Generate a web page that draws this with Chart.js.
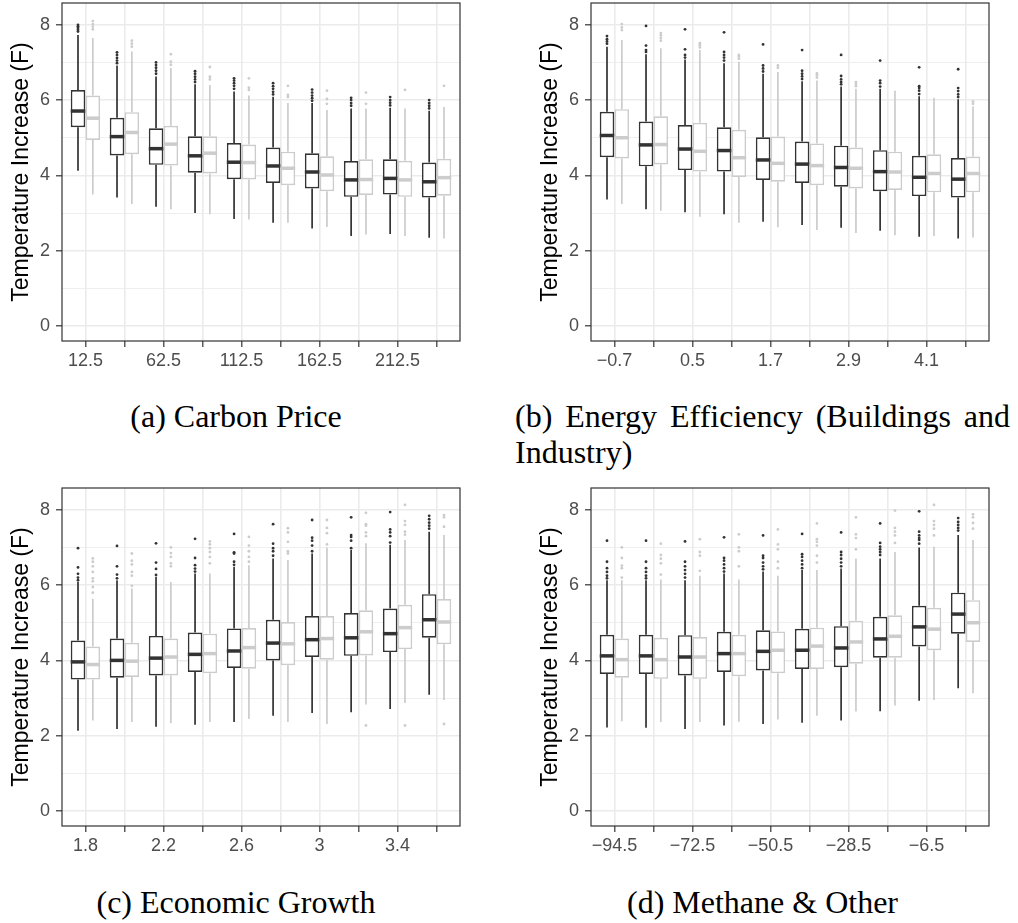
<!DOCTYPE html>
<html>
<head>
<meta charset="utf-8">
<script src="https://cdn.jsdelivr.net/npm/chart.js@4.4.0/dist/chart.umd.min.js"></script>
<style>
  body { margin: 0; background: #fff; }
  #page { position: relative; width: 1018px; height: 923px; overflow: hidden; }
  .panel { position: absolute; width: 480px; height: 380px; }
  .cap { position: absolute; font-family: "Liberation Serif", serif; font-size: 32px; line-height: 36px; color: #000; }
</style>
</head>
<body>
<div id="page">
  <div class="panel" style="left:0;top:0"><canvas id="carbon" width="480" height="380"></canvas></div>
  <div class="panel" style="left:529px;top:0"><canvas id="efficiency" width="480" height="380"></canvas></div>
  <div class="panel" style="left:0;top:485px"><canvas id="growth" width="480" height="380"></canvas></div>
  <div class="panel" style="left:529px;top:485px"><canvas id="methane" width="480" height="380"></canvas></div>

  <div class="cap" style="left:0;width:472px;top:398px;text-align:center;white-space:nowrap">(a) Carbon Price</div>
  <div class="cap" style="left:515px;width:495px;top:398px;text-align:justify;text-align-last:justify">(b) Energy Efficiency (Buildings and</div>
  <div class="cap" style="left:515px;top:434px;white-space:nowrap">Industry)</div>
  <div class="cap" style="left:0;width:472px;top:884px;text-align:center;white-space:nowrap">(c) Economic Growth</div>
  <div class="cap" style="left:515px;width:495px;top:884px;text-align:center;white-space:nowrap">(d) Methane &amp; Other</div>
</div>

<script>
// each box: [lower whisker, q1, median, q3, upper whisker]
const carbonLabels = ['12.5', '37.5', '62.5', '87.5', '112.5', '137.5', '162.5', '187.5', '212.5', '237.5'];
const carbonDark = [
    [4.12, 5.28, 5.71, 6.27, 7.73], [3.41, 4.53, 5.03, 5.53, 6.92], [3.17, 4.28, 4.71, 5.25, 6.63],
    [3.00, 4.07, 4.52, 5.04, 6.42], [2.84, 3.90, 4.35, 4.86, 6.23], [2.74, 3.80, 4.25, 4.74, 6.09],
    [2.59, 3.65, 4.09, 4.59, 5.92], [2.39, 3.43, 3.88, 4.38, 5.78], [2.44, 3.49, 3.92, 4.43, 5.80],
    [2.34, 3.41, 3.83, 4.34, 5.72]
];
const carbonLight = [
    [3.49, 4.94, 5.52, 6.12, 7.65], [3.24, 4.56, 5.14, 5.68, 7.29], [3.10, 4.26, 4.83, 5.32, 6.85],
    [2.97, 4.05, 4.59, 5.04, 6.40], [2.83, 3.89, 4.34, 4.82, 6.12], [2.74, 3.74, 4.19, 4.63, 5.92],
    [2.63, 3.58, 4.01, 4.51, 5.74], [2.43, 3.48, 3.89, 4.43, 5.78], [2.39, 3.43, 3.88, 4.39, 5.78],
    [2.32, 3.46, 3.94, 4.44, 5.82]
];
const carbonDarkOut = [
    [7.82, 7.87, 7.92, 7.96, 8.0], [6.98, 7.05, 7.12, 7.2, 7.27], [6.7, 6.78, 6.86, 6.93, 7.0],
    [6.48, 6.55, 6.62, 6.7, 6.77], [6.3, 6.38, 6.45, 6.52, 6.58], [6.15, 6.22, 6.3, 6.37, 6.45],
    [5.98, 6.05, 6.12, 6.2, 6.28], [5.85, 5.92, 6.0, 6.06], [5.86, 5.93, 6.0, 6.08], [5.78, 5.85, 5.92, 6.0]
];
const carbonLightOut = [
    [7.88, 7.95, 8.02, 8.1], [7.42, 7.5, 7.58], [6.94, 7.02, 7.22], [6.55, 6.62, 6.88], [6.27, 6.33, 6.58],
    [6.08, 6.14, 6.38], [5.9, 6.03, 6.25], [5.9, 6.2], [6.27], [6.38]
];

const efficiencyLabels = ['\u22120.7', '\u22120.1', '0.5', '1.1', '1.7', '2.3', '2.9', '3.5', '4.1', '4.7'];
const efficiencyDark = [
    [3.36, 4.48, 5.06, 5.69, 7.42], [3.10, 4.24, 4.81, 5.43, 7.22], [3.02, 4.14, 4.70, 5.34, 7.08],
    [2.97, 4.10, 4.66, 5.28, 6.98], [2.77, 3.88, 4.41, 5.01, 6.70], [2.68, 3.80, 4.30, 4.90, 6.50],
    [2.61, 3.70, 4.21, 4.79, 6.36], [2.53, 3.58, 4.10, 4.67, 6.30], [2.37, 3.45, 3.95, 4.52, 6.10],
    [2.32, 3.41, 3.90, 4.46, 6.02]
];
const efficiencyLight = [
    [3.24, 4.45, 5.00, 5.76, 7.60], [3.06, 4.29, 4.82, 5.57, 7.38], [2.90, 4.10, 4.64, 5.40, 7.33],
    [2.74, 3.96, 4.47, 5.21, 7.02], [2.62, 3.83, 4.32, 5.03, 6.75], [2.55, 3.74, 4.26, 4.85, 6.52],
    [2.47, 3.65, 4.19, 4.74, 6.30], [2.41, 3.61, 4.09, 4.63, 6.25], [2.39, 3.55, 4.05, 4.56, 6.06],
    [2.35, 3.55, 4.05, 4.50, 5.83]
];
const efficiencyDarkOut = [
    [7.5, 7.56, 7.62, 7.7], [7.28, 7.33, 7.45, 7.97], [7.13, 7.2, 7.35, 7.88], [7.05, 7.13, 7.2, 7.28, 7.8],
    [6.76, 6.84, 6.92, 7.48], [6.56, 6.63, 6.7, 6.78, 7.33], [6.42, 6.48, 6.55, 6.64, 7.2],
    [6.36, 6.45, 6.52, 7.05], [6.16, 6.25, 6.32, 6.37, 6.87], [6.08, 6.15, 6.24, 6.32, 6.82]
];
const efficiencyLightOut = [
    [7.86, 7.93, 8.02], [7.58, 7.65, 7.72, 7.78], [7.4, 7.46, 7.51], [7.1, 7.16, 7.2], [6.86, 6.92],
    [6.6, 6.66, 6.71], [6.37, 6.43, 6.48], [], [], [5.9, 5.96]
];

const growthLabels = ['1.8', '2', '2.2', '2.4', '2.6', '2.8', '3', '3.2', '3.4', '3.6'];
const growthDark = [
    [2.13, 3.49, 3.96, 4.53, 6.09], [2.18, 3.54, 4.00, 4.58, 6.13], [2.24, 3.60, 4.06, 4.65, 6.22],
    [2.29, 3.69, 4.16, 4.74, 6.31], [2.36, 3.80, 4.25, 4.85, 6.49], [2.53, 4.00, 4.46, 5.08, 6.71],
    [2.60, 4.09, 4.55, 5.18, 6.84], [2.62, 4.12, 4.60, 5.26, 6.93], [2.71, 4.22, 4.71, 5.38, 7.07],
    [3.09, 4.60, 5.08, 5.76, 7.42]
];
const growthLight = [
    [2.40, 3.49, 3.89, 4.37, 5.64], [2.36, 3.56, 3.98, 4.47, 5.91], [2.33, 3.60, 4.09, 4.58, 6.08],
    [2.36, 3.66, 4.18, 4.71, 6.31], [2.44, 3.78, 4.34, 4.86, 6.53], [2.36, 3.87, 4.44, 5.02, 6.67],
    [2.31, 4.02, 4.58, 5.18, 7.00], [2.83, 4.13, 4.76, 5.33, 7.11], [2.87, 4.30, 4.87, 5.48, 7.20],
    [2.95, 4.43, 5.02, 5.63, 7.33]
];
const growthDarkOut = [
    [6.13, 6.2, 6.3, 6.47, 6.98], [6.18, 6.28, 6.5, 7.04], [6.27, 6.43, 6.6, 7.11], [6.36, 6.44, 6.53, 6.72, 7.23],
    [6.54, 6.62, 6.84, 6.87, 7.36], [6.78, 6.9, 6.98, 7.1, 7.62], [6.9, 7.05, 7.18, 7.26, 7.73],
    [6.98, 7.18, 7.28, 7.33, 7.8], [7.13, 7.3, 7.4, 7.48, 7.94], [7.5, 7.58, 7.66, 7.75, 7.84]
];
const growthLightOut = [
    [5.8, 5.95, 6.1, 6.18, 6.35, 6.5, 6.62, 6.71], [5.98, 6.25, 6.35, 6.55, 6.65, 6.84], [6.5, 6.58, 6.75, 6.85, 7.0],
    [6.58, 6.75, 6.88, 6.98, 7.08, 7.16], [6.62, 6.75, 6.9, 7.05, 7.28], [6.84, 6.9, 7.15, 7.4, 7.51],
    [7.08, 7.38, 7.52, 7.73], [2.27, 7.3, 7.4, 7.58, 7.62, 7.92], [2.27, 7.34, 7.42, 7.6, 7.7, 8.13],
    [2.31, 7.55, 7.8, 7.86]
];

const methaneLabels = ['\u221294.5', '\u221283.5', '\u221272.5', '\u221261.5', '\u221250.5', '\u221239.5', '\u221228.5', '\u221217.5', '\u22126.5', '4.5'];
const methaneDark = [
    [2.22, 3.64, 4.12, 4.68, 6.13], [2.21, 3.64, 4.12, 4.68, 6.13], [2.18, 3.60, 4.09, 4.67, 6.13],
    [2.27, 3.69, 4.18, 4.76, 6.31], [2.31, 3.73, 4.24, 4.80, 6.36], [2.34, 3.77, 4.27, 4.84, 6.40],
    [2.40, 3.82, 4.33, 4.91, 6.44], [2.65, 4.07, 4.57, 5.16, 6.71], [2.93, 4.37, 4.89, 5.45, 7.00],
    [3.26, 4.71, 5.23, 5.80, 7.33]
];
const methaneLight = [
    [2.38, 3.54, 4.02, 4.58, 6.13], [2.36, 3.51, 4.02, 4.60, 6.15], [2.36, 3.51, 4.09, 4.62, 6.25],
    [2.37, 3.58, 4.18, 4.68, 6.15], [2.43, 3.66, 4.27, 4.77, 6.25], [2.53, 3.77, 4.38, 4.87, 6.40],
    [2.64, 3.91, 4.49, 5.05, 6.71], [2.80, 4.07, 4.64, 5.20, 6.88], [2.95, 4.27, 4.83, 5.40, 7.02],
    [3.13, 4.49, 5.00, 5.60, 7.20]
];
const methaneDarkOut = [
    [6.18, 6.25, 6.35, 6.45, 6.62, 7.18], [6.18, 6.25, 6.35, 6.45, 6.62, 7.18], [6.2, 6.3, 6.4, 6.5, 6.62, 7.16],
    [6.36, 6.45, 6.55, 6.65, 6.72, 7.27], [6.42, 6.5, 6.6, 6.72, 6.78, 7.32], [6.45, 6.55, 6.65, 6.75, 6.82, 7.36],
    [6.5, 6.6, 6.7, 6.8, 6.88, 7.4], [6.8, 6.88, 6.95, 7.02, 7.12, 7.64], [7.1, 7.2, 7.25, 7.32, 7.42, 7.96],
    [7.45, 7.52, 7.6, 7.68, 7.78]
];
const methaneLightOut = [
    [6.2, 6.45, 6.52, 6.72, 7.0], [6.28, 6.58, 6.7, 6.8, 7.1], [6.38, 6.78, 6.88, 7.22], [6.5, 6.9, 7.0, 7.35],
    [6.45, 6.62, 6.95, 7.08, 7.48], [6.6, 6.78, 7.05, 7.15, 7.22, 7.64], [6.95, 7.25, 7.35, 7.8],
    [7.12, 7.32, 7.42, 7.52, 7.98], [7.32, 7.5, 7.6, 7.7, 8.13], [7.5, 7.65, 7.8, 7.88]
];

const yTicks = [0, 1, 2, 3, 4, 5, 6, 7, 8];

const DARK = '#333333';
const LIGHT = '#CCCCCC';
const GRID = '#EBEBEB';
const AXIS = '#333333';
const TICK_TEXT = '#4D4D4D';
const SANS = '"Liberation Sans", Arial, sans-serif';

// whiskers + outliers under the boxes, medians on top, then the panel border
const boxParts = {
    id: 'boxParts',
    beforeDatasetsDraw(chart) {
        const ctx = chart.ctx;
        const y = chart.scales.y;
        ctx.save();
        chart.data.datasets.forEach((ds, di) => {
            const meta = chart.getDatasetMeta(di);
            ctx.strokeStyle = ds.borderColor;
            ctx.fillStyle = ds.borderColor;
            ctx.lineWidth = 1.7;
            ds.stats.forEach((s, i) => {
                const x = meta.data[i].x;
                ctx.beginPath();
                ctx.moveTo(x, y.getPixelForValue(s[3]));
                ctx.lineTo(x, y.getPixelForValue(s[4]));
                ctx.moveTo(x, y.getPixelForValue(s[1]));
                ctx.lineTo(x, y.getPixelForValue(s[0]));
                ctx.stroke();
                (ds.outliers[i] || []).forEach(v => {
                    ctx.beginPath();
                    ctx.arc(x, y.getPixelForValue(v), 1.4, 0, Math.PI * 2);
                    ctx.fill();
                });
            });
        });
        ctx.restore();
    },
    afterDatasetsDraw(chart) {
        const ctx = chart.ctx;
        const y = chart.scales.y;
        ctx.save();
        chart.data.datasets.forEach((ds, di) => {
            const meta = chart.getDatasetMeta(di);
            ctx.strokeStyle = ds.borderColor;
            ctx.lineWidth = 3.5;
            ds.stats.forEach((s, i) => {
                const bar = meta.data[i];
                const py = y.getPixelForValue(s[2]);
                ctx.beginPath();
                ctx.moveTo(bar.x - bar.width / 2, py);
                ctx.lineTo(bar.x + bar.width / 2, py);
                ctx.stroke();
            });
        });
        const a = chart.chartArea;
        ctx.strokeStyle = AXIS;
        ctx.lineWidth = 1.2;
        ctx.strokeRect(a.left, a.top, a.right - a.left, a.bottom - a.top);
        ctx.restore();
    }
};

const boxDataset = (stats, outliers, color) => ({
    data: stats.map((s, i) => ({ x: i, y: [s[1], s[3]] })),
    stats: stats,
    outliers: outliers,
    backgroundColor: '#FFFFFF',
    borderColor: color,
    borderWidth: 1.7,
    borderSkipped: false,
    categoryPercentage: 0.76,
    barPercentage: 0.98
});

const makePanel = (id, labels, dark, light, darkOut, lightOut) => {
    const ctx = document.getElementById(id).getContext('2d');

    new Chart(ctx, {
        type: 'bar',
        data: {
            datasets: [
                boxDataset(dark, darkOut, DARK),
                boxDataset(light, lightOut, LIGHT)
            ]
        },
        plugins: [boxParts],
        options: {
            responsive: false,
            animation: false,
            devicePixelRatio: 1,
            layout: { padding: { top: 3, right: 20, left: 0, bottom: 0 } },
            plugins: {
                legend: { display: false },
                tooltip: { enabled: false }
            },
            scales: {
                x: {
                    type: 'linear',
                    min: -0.6,
                    max: 9.6,
                    bounds: 'data',
                    offset: false,
                    afterBuildTicks: (scale) => {
                        scale.ticks = labels.map((l, i) => ({ value: i }));
                    },
                    afterFit: (scale) => {
                        scale.height = 39;
                        scale.paddingLeft = 0;
                        scale.paddingRight = 0;
                    },
                    border: { display: false },
                    grid: {
                        offset: false,
                        color: GRID,
                        lineWidth: 1.6,
                        tickColor: AXIS,
                        tickWidth: 1.2,
                        tickLength: 6
                    },
                    ticks: {
                        autoSkip: false,
                        maxRotation: 0,
                        padding: 3,
                        color: TICK_TEXT,
                        font: { family: SANS, size: 18 },
                        callback: (value) => value % 2 === 0 ? labels[value] : ''
                    }
                },
                y: {
                    type: 'linear',
                    min: -0.4,
                    max: 8.58,
                    bounds: 'data',
                    afterBuildTicks: (scale) => {
                        scale.ticks = yTicks.map(v => ({ value: v }));
                    },
                    afterFit: (scale) => {
                        scale.width = 62;
                        scale.paddingTop = 0;
                        scale.paddingBottom = 0;
                    },
                    border: { display: false },
                    grid: {
                        color: GRID,
                        lineWidth: (c) => c.tick && c.tick.value % 2 === 0 ? 1.6 : 0.8,
                        tickColor: (c) => c.tick && c.tick.value % 2 === 0 ? AXIS : 'rgba(0,0,0,0)',
                        tickWidth: 1.2,
                        tickLength: 6
                    },
                    ticks: {
                        padding: 6,
                        color: TICK_TEXT,
                        font: { family: SANS, size: 18 },
                        callback: (value) => value % 2 === 0 ? value : ''
                    },
                    title: {
                        display: true,
                        text: 'Temperature Increase (F)',
                        color: '#000000',
                        font: { family: SANS, size: 23 },
                        padding: { top: 8, bottom: 0 }
                    }
                }
            }
        }
    });
};

document.addEventListener('DOMContentLoaded', function () {
    makePanel('carbon', carbonLabels, carbonDark, carbonLight, carbonDarkOut, carbonLightOut);
    makePanel('efficiency', efficiencyLabels, efficiencyDark, efficiencyLight, efficiencyDarkOut, efficiencyLightOut);
    makePanel('growth', growthLabels, growthDark, growthLight, growthDarkOut, growthLightOut);
    makePanel('methane', methaneLabels, methaneDark, methaneLight, methaneDarkOut, methaneLightOut);
});
</script>
</body>
</html>
